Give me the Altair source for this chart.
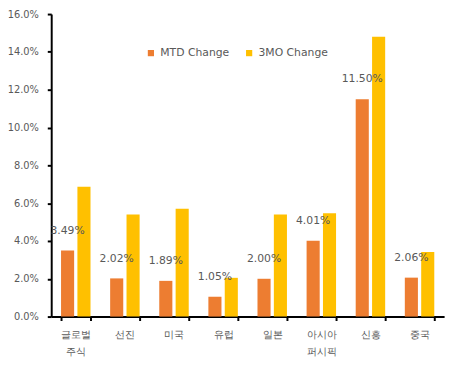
import altair as alt
import pandas as pd

categories = ["글로벌 주식", "선진", "미국", "유럽", "일본", "아시아 퍼시픽", "신흥", "중국"]
mtd = [3.49, 2.02, 1.89, 1.05, 2.00, 4.01, 11.50, 2.06]
three_mo = [6.87, 5.40, 5.71, 2.05, 5.40, 5.47, 14.80, 3.41]
series = ["MTD Change", "3MO Change"]

rows = []
for c, a, b in zip(categories, mtd, three_mo):
    rows.append({"cat": c, "series": series[0], "v": a / 100})
    rows.append({"cat": c, "series": series[1], "v": b / 100})
df = pd.DataFrame(rows)

font = "DejaVu Sans"
gray = "#595959"

x = alt.X("cat:N", sort=categories, title=None,
          scale=alt.Scale(paddingInner=0.4, paddingOuter=0.2),
          axis=alt.Axis(labelExpr="split(datum.label, ' ')", labelAngle=0,
                        tickBand="extent", domainColor="black", domainWidth=2,
                        tickColor="black", tickWidth=2, tickSize=4,
                        labelColor=gray, labelFont=font, labelFontSize=10,
                        labelPadding=9, labelLineHeight=18))
y = alt.Y("v:Q", title=None,
          scale=alt.Scale(domain=[0, 0.16]),
          axis=alt.Axis(values=[i * 0.02 for i in range(9)], format=".1%",
                        grid=False, domainColor="black", domainWidth=2,
                        tickColor="black", tickWidth=2, tickSize=4,
                        labelColor=gray, labelFont=font, labelFontSize=10,
                        labelPadding=9))
xo = alt.XOffset("series:N", sort=series, scale=alt.Scale(paddingInner=0.2))

bars = alt.Chart(df).mark_bar().encode(
    x=x, y=y, xOffset=xo,
    color=alt.Color("series:N", sort=series,
                    scale=alt.Scale(domain=series, range=["#ED7D31", "#FFC000"]),
                    legend=alt.Legend(title=None, orient="none", direction="horizontal",
                                      legendX=96, legendY=34, symbolType="square",
                                      symbolSize=40, labelFont=font, labelFontSize=11,
                                      labelColor=gray, columnPadding=14,
                                      symbolStrokeWidth=0)),
)

labels = alt.Chart(df).transform_filter(
    alt.datum.series == "MTD Change"
).mark_text(font=font, fontSize=11, color=gray, baseline="middle", dy=-20).encode(
    x=x, y=y, xOffset=xo,
    text=alt.Text("v:Q", format=".2%"),
)

chart = alt.layer(bars, labels).properties(
    width=400, height=308,
    autosize=alt.AutoSizeParams(type="none"),
    padding={"left": 44, "top": 3, "right": 6, "bottom": 40},
).configure_view(stroke=None)

chart.save("out.html", embed_options={"renderer": "svg", "actions": False})
